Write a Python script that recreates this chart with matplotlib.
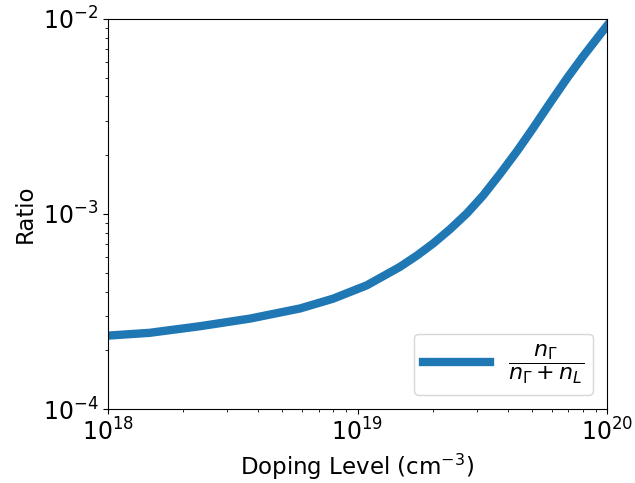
import matplotlib
matplotlib.use("Agg")
import matplotlib.pyplot as plt

# doping level (cm^-3) and ratio
doping = [1.0e18, 1.47e18, 2.34e18, 3.71e18, 5.89e18, 7.98e18, 1.09e19,
          1.48e19, 1.73e19, 2.01e19, 2.35e19, 2.75e19, 3.18e19, 3.72e19,
          4.36e19, 5.05e19, 5.92e19, 6.92e19, 8.02e19, 9.38e19, 1.0e20]
ratio = [2.38e-4, 2.46e-4, 2.66e-4, 2.91e-4, 3.28e-4, 3.68e-4, 4.31e-4,
         5.36e-4, 6.12e-4, 7.06e-4, 8.36e-4, 1.01e-3, 1.24e-3, 1.60e-3,
         2.10e-3, 2.75e-3, 3.72e-3, 4.97e-3, 6.43e-3, 8.32e-3, 9.23e-3]

fig = plt.figure(figsize=(6.35, 4.83), dpi=100)
ax = fig.add_axes([0.170, 0.153, 0.786, 0.808])

ax.plot(doping, ratio, color="#1f77b4", linewidth=6,
        label=r"$\dfrac{n_\Gamma}{n_\Gamma + n_L}$")
ax.set_xscale("log")
ax.set_yscale("log")
ax.set_xlim(1e18, 1e20)
ax.set_ylim(1e-4, 1e-2)
ax.set_xlabel(r"Doping Level (cm$^{-3}$)", fontsize=16.5)
ax.set_ylabel("Ratio", fontsize=16.5)
ax.tick_params(labelsize=17)
ax.legend(loc="lower right", fontsize=16, handlelength=3,
          borderaxespad=0.65)

fig.savefig("out.png", dpi=100)
